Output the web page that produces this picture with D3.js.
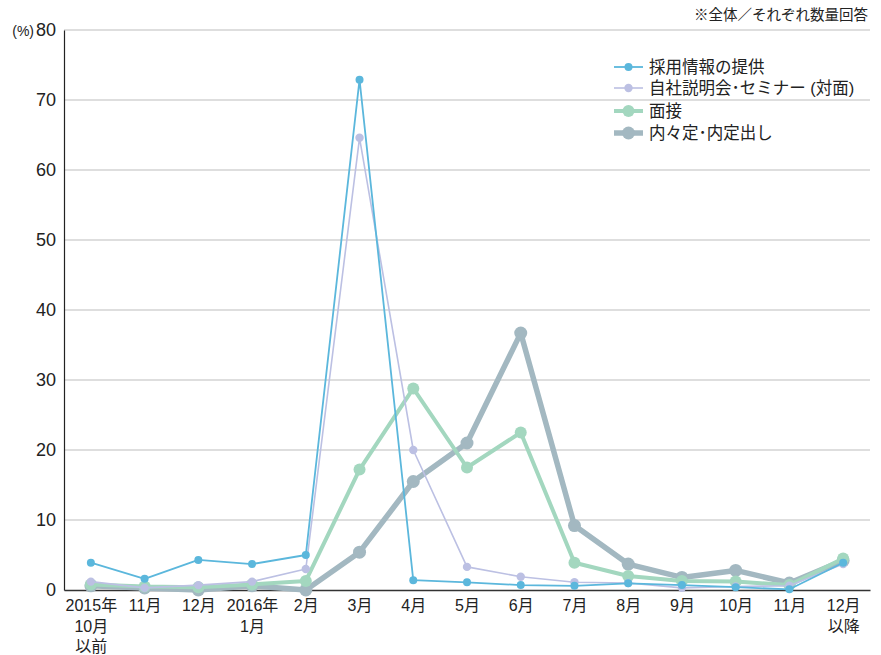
<!DOCTYPE html>
<html>
<head>
<meta charset="utf-8">
<script src="https://cdn.jsdelivr.net/npm/d3@7"></script>
<style>
  html, body { margin: 0; padding: 0; background: #fff; }
  svg { display: block; }
</style>
</head>
<body>
<svg width="881" height="655"></svg>
<script>
// categories (newline = line break in label)
const months = ['2015年\n10月\n以前', '11月', '12月', '2016年\n1月', '2月', '3月', '4月', '5月', '6月', '7月', '8月', '9月', '10月', '11月', '12月\n以降'];

const infoValues = [3.9, 1.6, 4.3, 3.7, 5.0, 72.9, 1.4, 1.1, 0.7, 0.6, 0.95, 0.7, 0.4, 0.1, 3.9];
const seminarValues = [1.2, 0.3, 0.7, 1.2, 3.0, 64.6, 20.0, 3.3, 1.9, 1.1, 1.0, 0.3, 0.5, 0.6, 3.7];
const interviewValues = [0.8, 0.5, 0.4, 0.8, 1.3, 17.2, 28.8, 17.5, 22.5, 3.9, 2.0, 1.3, 1.2, 0.7, 4.5];
const offerValues = [0.6, 0.3, 0.0, 0.6, 0.0, 5.4, 15.5, 21.0, 36.7, 9.2, 3.7, 1.8, 2.8, 1.0, 4.2];

const seriesNames = ['採用情報の提供', '自社説明会･セミナー (対面)', '面接', '内々定･内定出し'];
const yTicks = [0, 10, 20, 30, 40, 50, 60, 70, 80];

const series = [
  {name: seriesNames[0], values: infoValues, color: '#5bb7dc', width: 1.8, r: 4},
  {name: seriesNames[1], values: seminarValues, color: '#bcc0e3', width: 1.6, r: 4.2},
  {name: seriesNames[2], values: interviewValues, color: '#a3d7bf', width: 4, r: 6},
  {name: seriesNames[3], values: offerValues, color: '#a3b8c1', width: 5.5, r: 6.5}
];

const font = '"Liberation Sans", "Noto Sans CJK JP", sans-serif';
const svg = d3.select('svg')
  .attr('font-family', font);
const margin = {top: 30, right: 11, bottom: 65, left: 64};
const width = +svg.attr('width');
const height = +svg.attr('height');
const innerWidth = width - margin.left - margin.right;
const innerHeight = height - margin.top - margin.bottom;

// months repeat (11月, 12月), so the scale works on indices
const x = d3.scalePoint()
  .domain(d3.range(months.length))
  .range([0, innerWidth])
  .padding(0.5);

const y = d3.scaleLinear()
  .domain([0, 80])
  .range([innerHeight, 0]);

const g = svg.append('g')
  .attr('transform', `translate(${margin.left},${margin.top})`);

// grid lines
g.append('g').selectAll('line').data(yTicks.filter(d => d > 0))
  .enter().append('line')
  .attr('x1', 0).attr('x2', innerWidth)
  .attr('y1', d => y(d)).attr('y2', d => y(d))
  .attr('stroke', '#bdbdbd')
  .attr('stroke-width', 1.2);

// y axis
const yAxis = g.append('g').call(d3.axisLeft(y).tickValues(yTicks).tickSize(0).tickPadding(8));
yAxis.attr('font-size', 18).attr('font-family', font);
yAxis.selectAll('text').attr('fill', '#222');
yAxis.select('.domain').attr('stroke', '#222').attr('stroke-width', 1.2);

// x axis
const xAxis = g.append('g')
  .attr('transform', `translate(0,${innerHeight})`)
  .call(d3.axisBottom(x).tickSize(0).tickPadding(10).tickFormat(i => months[i]));
xAxis.attr('font-size', 16).attr('font-family', font);
xAxis.select('.domain').attr('stroke', '#333').attr('stroke-width', 1.5);
xAxis.selectAll('text')
  .attr('fill', '#222')
  .each(function(i) {
    const t = d3.select(this);
    const lines = months[i].split('\n');
    t.text(null);
    lines.forEach((l, k) => {
      t.append('tspan').attr('x', 0).attr('dy', k === 0 ? '0.71em' : '1.28em').text(l);
    });
  });

svg.append('text')
  .attr('x', 34).attr('y', 36)
  .attr('text-anchor', 'end')
  .attr('font-size', 14)
  .attr('fill', '#222')
  .text('(%)');

svg.append('text')
  .attr('x', 868).attr('y', 20)
  .attr('text-anchor', 'end')
  .attr('font-size', 14.5)
  .attr('fill', '#222')
  .text('※全体／それぞれ数量回答');

// lines, drawn back to front
const line = d3.line()
  .x((d, i) => x(i))
  .y(d => y(d));

series.slice().reverse().forEach(s => {
  const sg = g.append('g');
  sg.append('path')
    .datum(s.values)
    .attr('d', line)
    .attr('fill', 'none')
    .attr('stroke', s.color)
    .attr('stroke-width', s.width)
    .attr('stroke-linejoin', 'round');
  sg.selectAll('circle').data(s.values)
    .enter().append('circle')
    .attr('cx', (d, i) => x(i))
    .attr('cy', d => y(d))
    .attr('r', s.r)
    .attr('fill', s.color);
});

// legend
const legend = svg.append('g').attr('transform', 'translate(614,67)');
const rowY = [0, 21, 44, 66];
series.forEach((s, i) => {
  const lg = legend.append('g').attr('transform', `translate(0,${rowY[i]})`);
  lg.append('line')
    .attr('x1', 0).attr('x2', 29)
    .attr('stroke', s.color)
    .attr('stroke-width', s.width);
  lg.append('circle')
    .attr('cx', 14.5)
    .attr('r', s.r)
    .attr('fill', s.color);
  lg.append('text')
    .attr('x', 35)
    .attr('dy', '0.36em')
    .attr('font-size', 16.5)
    .attr('fill', '#222')
    .text(s.name);
});
</script>
</body>
</html>
